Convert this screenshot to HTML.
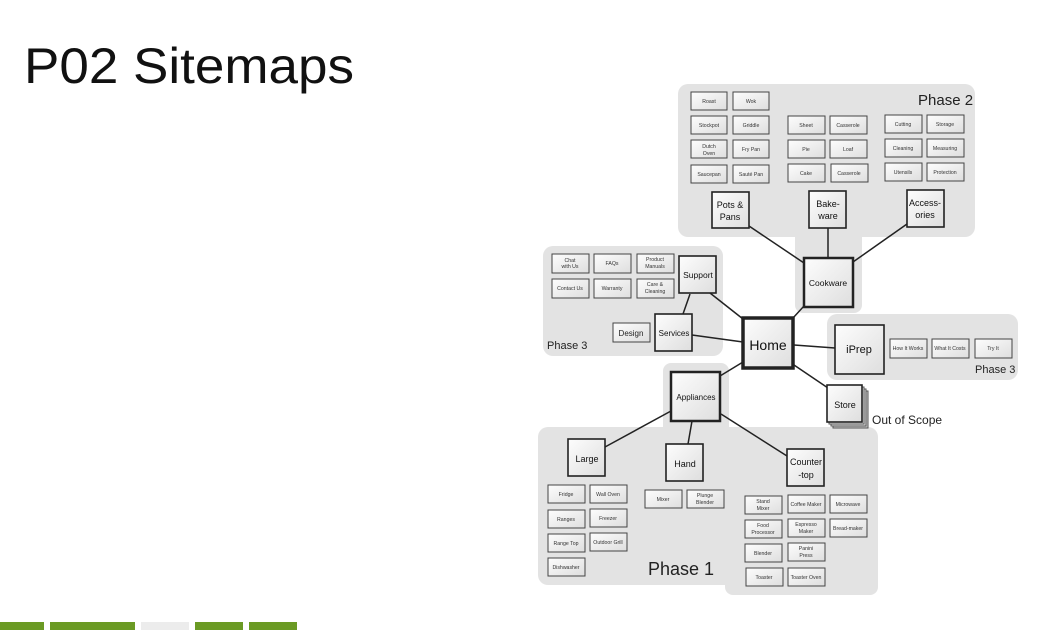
<!DOCTYPE html>
<html><head><meta charset="utf-8"><style>
html,body{margin:0;padding:0;background:#fff;width:1049px;height:630px;overflow:hidden}
svg{display:block}
text{font-family:"Liberation Sans","DejaVu Sans",sans-serif;fill:#222}
.s rect{fill:url(#g);stroke:#444;stroke-width:1}
.s text{font-size:5.2px;text-anchor:middle;fill:#333}
.m rect{fill:url(#g);stroke:#222;stroke-width:1.6}
.m text{font-size:9px;text-anchor:middle;fill:#111}
.ln{stroke:#222;stroke-width:1.5;fill:none}
.reg{fill:#e3e3e3}
</style></head><body>
<svg width="1049" height="630" viewBox="0 0 1049 630" xmlns="http://www.w3.org/2000/svg">
<defs><linearGradient id="g" x1="0" y1="0" x2="1" y2="1"><stop offset="0" stop-color="#fdfdfd"/><stop offset="1" stop-color="#dedede"/></linearGradient></defs>
<text x="24" y="83" style="font-size:50px;fill:#111" textLength="330" lengthAdjust="spacingAndGlyphs">P02 Sitemaps</text>

<!-- regions -->
<rect class="reg" x="678" y="84" width="297" height="153" rx="10"/>
<rect class="reg" x="795" y="225" width="67" height="88" rx="8"/>
<rect class="reg" x="543" y="246" width="180" height="110" rx="10"/>
<rect class="reg" x="827" y="314" width="191" height="66" rx="10"/>
<rect class="reg" x="663" y="363" width="66" height="80" rx="8"/>
<rect class="reg" x="538" y="427" width="340" height="158" rx="10"/>
<rect class="reg" x="725" y="440" width="153" height="155" rx="8"/>

<!-- lines -->
<g class="ln">
<line x1="749" y1="226" x2="804" y2="263"/>
<line x1="828" y1="228" x2="828" y2="257"/>
<line x1="907" y1="224" x2="853" y2="262"/>
<line x1="710" y1="293" x2="743" y2="319"/>
<line x1="690" y1="294" x2="683" y2="314"/>
<line x1="692" y1="335" x2="743" y2="342"/>
<line x1="793" y1="318" x2="804" y2="306"/>
<line x1="794" y1="345" x2="835" y2="348"/>
<line x1="794" y1="365" x2="828" y2="388"/>
<line x1="743" y1="362" x2="720" y2="376"/>
<line x1="671" y1="411" x2="605" y2="447"/>
<line x1="692" y1="421" x2="688" y2="444"/>
<line x1="721" y1="414" x2="787" y2="456"/>
</g>

<!-- region labels -->
<text x="918" y="105" style="font-size:15px">Phase 2</text>
<text x="547" y="349" style="font-size:11px">Phase 3</text>
<text x="975" y="373" style="font-size:11px">Phase 3</text>
<text x="648" y="575" style="font-size:18px">Phase 1</text>
<text x="872" y="424" style="font-size:12px">Out of Scope</text>

<!-- small boxes -->
<g class="s">
<!-- pots & pans -->
<rect x="691" y="92" width="36" height="18"/><text x="709" y="103">Roast</text>
<rect x="733" y="92" width="36" height="18"/><text x="751" y="103">Wok</text>
<rect x="691" y="116" width="36" height="18"/><text x="709" y="127">Stockpot</text>
<rect x="733" y="116" width="36" height="18"/><text x="751" y="127">Griddle</text>
<rect x="691" y="140" width="36" height="18"/><text x="709" y="148">Dutch</text><text x="709" y="155">Oven</text>
<rect x="733" y="140" width="36" height="18"/><text x="751" y="151">Fry Pan</text>
<rect x="691" y="165" width="36" height="18"/><text x="709" y="176">Saucepan</text>
<rect x="733" y="165" width="36" height="18"/><text x="751" y="176">Sauté Pan</text>
<!-- bakeware -->
<rect x="788" y="116" width="37" height="18"/><text x="806" y="127">Sheet</text>
<rect x="830" y="116" width="37" height="18"/><text x="848" y="127">Casserole</text>
<rect x="788" y="140" width="37" height="18"/><text x="806" y="151">Pie</text>
<rect x="830" y="140" width="37" height="18"/><text x="848" y="151">Loaf</text>
<rect x="788" y="164" width="37" height="18"/><text x="806" y="175">Cake</text>
<rect x="831" y="164" width="37" height="18"/><text x="849" y="175">Casserole</text>
<!-- accessories -->
<rect x="885" y="115" width="37" height="18"/><text x="903" y="126">Cutting</text>
<rect x="927" y="115" width="37" height="18"/><text x="945" y="126">Storage</text>
<rect x="885" y="139" width="37" height="18"/><text x="903" y="150">Cleaning</text>
<rect x="927" y="139" width="37" height="18"/><text x="945" y="150">Measuring</text>
<rect x="885" y="163" width="37" height="18"/><text x="903" y="174">Utensils</text>
<rect x="927" y="163" width="37" height="18"/><text x="945" y="174">Protection</text>
<!-- support -->
<rect x="552" y="254" width="37" height="19"/><text x="570" y="262">Chat</text><text x="570" y="268">with Us</text>
<rect x="594" y="254" width="37" height="19"/><text x="612" y="265">FAQs</text>
<rect x="637" y="254" width="37" height="19"/><text x="655" y="261">Product</text><text x="655" y="268">Manuals</text>
<rect x="552" y="279" width="37" height="19"/><text x="570" y="290">Contact Us</text>
<rect x="594" y="279" width="37" height="19"/><text x="612" y="290">Warranty</text>
<rect x="637" y="279" width="37" height="19"/><text x="655" y="286">Care &amp;</text><text x="655" y="293">Cleaning</text>
<!-- iprep -->
<rect x="890" y="339" width="37" height="19"/><text x="908" y="350">How It Works</text>
<rect x="932" y="339" width="37" height="19"/><text x="950" y="350">What It Costs</text>
<rect x="975" y="339" width="37" height="19"/><text x="993" y="350">Try It</text>
<!-- large -->
<rect x="548" y="485" width="37" height="18"/><text x="566" y="496">Fridge</text>
<rect x="590" y="485" width="37" height="18"/><text x="608" y="496">Wall Oven</text>
<rect x="548" y="510" width="37" height="18"/><text x="566" y="521">Ranges</text>
<rect x="590" y="509" width="37" height="18"/><text x="608" y="520">Freezer</text>
<rect x="548" y="534" width="37" height="18"/><text x="566" y="545">Range Top</text>
<rect x="590" y="533" width="37" height="18"/><text x="608" y="544">Outdoor Grill</text>
<rect x="548" y="558" width="37" height="18"/><text x="566" y="569">Dishwasher</text>
<!-- hand -->
<rect x="645" y="490" width="37" height="18"/><text x="663" y="501">Mixer</text>
<rect x="687" y="490" width="37" height="18"/><text x="705" y="497">Plunge</text><text x="705" y="504">Blender</text>
<!-- countertop -->
<rect x="745" y="496" width="37" height="18"/><text x="763" y="503">Stand</text><text x="763" y="510">Mixer</text>
<rect x="788" y="495" width="37" height="18"/><text x="806" y="506">Coffee Maker</text>
<rect x="830" y="495" width="37" height="18"/><text x="848" y="506">Microwave</text>
<rect x="745" y="520" width="37" height="18"/><text x="763" y="527">Food</text><text x="763" y="534">Processor</text>
<rect x="788" y="519" width="37" height="18"/><text x="806" y="526">Espresso</text><text x="806" y="533">Maker</text>
<rect x="830" y="519" width="37" height="18"/><text x="848" y="530">Bread-maker</text>
<rect x="745" y="544" width="37" height="18"/><text x="763" y="555">Blender</text>
<rect x="788" y="543" width="37" height="18"/><text x="806" y="550">Panini</text><text x="806" y="557">Press</text>
<rect x="746" y="568" width="37" height="18"/><text x="764" y="579">Toaster</text>
<rect x="788" y="568" width="37" height="18"/><text x="806" y="579">Toaster Oven</text>
<rect x="613" y="323" width="37" height="19"/>
</g>
<text x="631" y="336" style="font-size:8px;text-anchor:middle">Design</text>

<!-- main boxes -->
<g class="m">
<rect x="712" y="192" width="37" height="36"/><text x="730" y="208">Pots &amp;</text><text x="730" y="220">Pans</text>
<rect x="809" y="191" width="37" height="37"/><text x="828" y="207">Bake-</text><text x="828" y="219">ware</text>
<rect x="907" y="190" width="37" height="37"/><text x="925" y="206">Access-</text><text x="925" y="218">ories</text>
<rect x="679" y="256" width="37" height="37"/><text x="698" y="278" style="font-size:8.5px">Support</text>
<rect x="655" y="314" width="37" height="37"/><text x="674" y="336" style="font-size:8px">Services</text>
<rect x="835" y="325" width="49" height="49"/><text x="859" y="353" style="font-size:11px">iPrep</text>
<rect x="568" y="439" width="37" height="37"/><text x="587" y="462">Large</text>
<rect x="666" y="444" width="37" height="37"/><text x="685" y="467">Hand</text>
<rect x="787" y="449" width="37" height="37"/><text x="806" y="465">Counter</text><text x="806" y="478">-top</text>
<rect x="833" y="391" width="35" height="37" style="fill:#ccc;stroke:#555;stroke-width:1"/>
<rect x="831" y="389" width="35" height="37" style="fill:#ddd;stroke:#555;stroke-width:1"/>
<rect x="829" y="387" width="35" height="37" style="fill:#e6e6e6;stroke:#555;stroke-width:1"/>
<rect x="827" y="385" width="35" height="37"/><text x="845" y="408">Store</text>
<rect x="804" y="258" width="49" height="49" style="stroke-width:2.5"/><text x="828" y="286" style="font-size:8.5px">Cookware</text>
<rect x="671" y="372" width="49" height="49" style="stroke-width:2.5"/><text x="696" y="400" style="font-size:8px">Appliances</text>
<rect x="743" y="318" width="50" height="50" style="stroke-width:3.5"/><text x="768" y="350" style="font-size:14px">Home</text>
</g>

<!-- footer bars -->
<rect x="0" y="622" width="44" height="8" fill="#6b9a24"/>
<rect x="50" y="622" width="85" height="8" fill="#6b9a24"/>
<rect x="141" y="622" width="48" height="8" fill="#ececec"/>
<rect x="195" y="622" width="48" height="8" fill="#6b9a24"/>
<rect x="249" y="622" width="48" height="8" fill="#6b9a24"/>
</svg>
</body></html>
